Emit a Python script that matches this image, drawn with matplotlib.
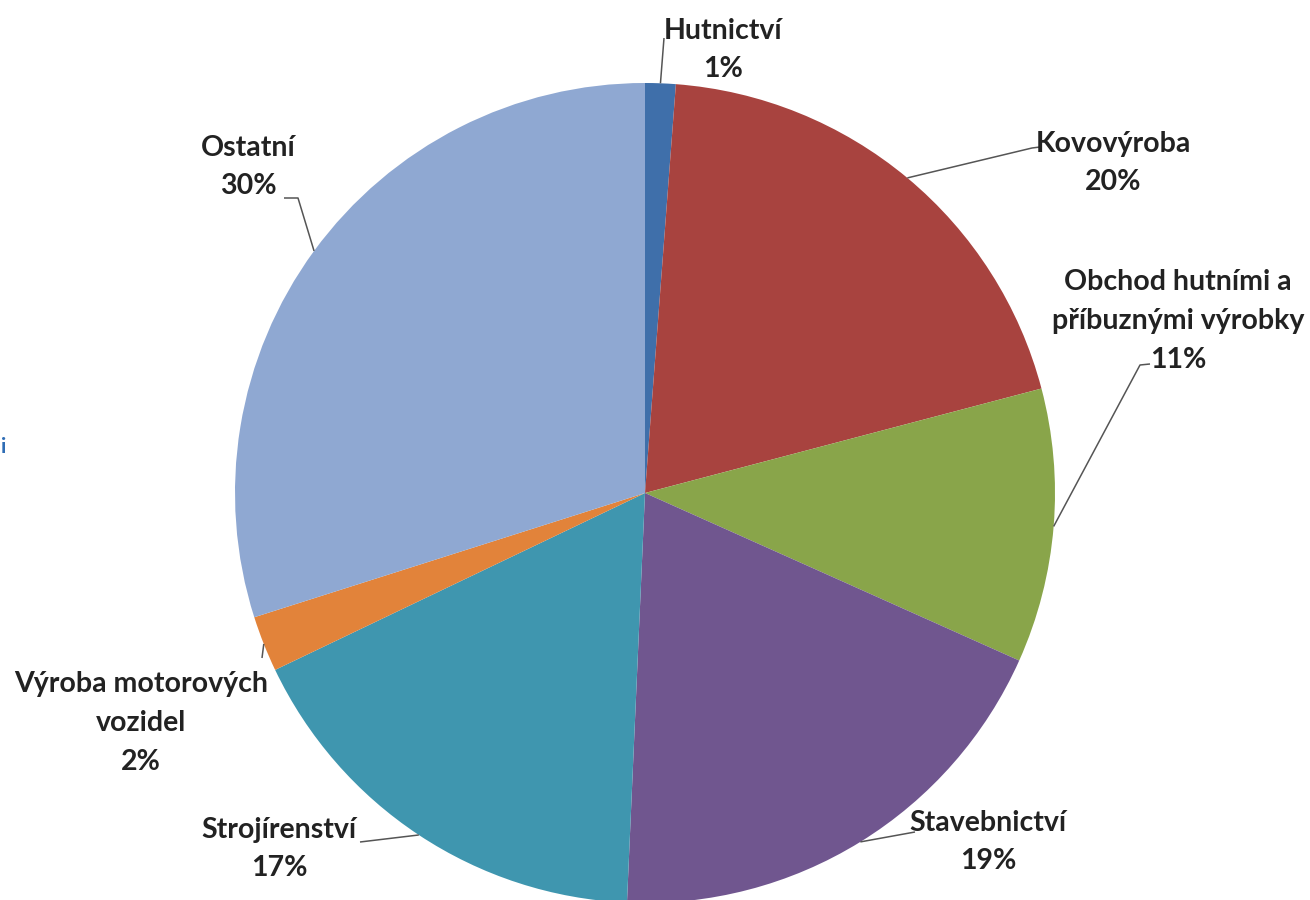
import matplotlib
matplotlib.use("Agg")
import matplotlib.pyplot as plt
import numpy as np

# data (share of sectors, %)
sectors = ["Hutnictví", "Kovovýroba", "Obchod hutními a\npříbuznými výrobky",
           "Stavebnictví", "Strojírenství", "Výroba motorových\nvozidel", "Ostatní"]
shares = [1.2, 19.7, 10.8, 19.0, 17.2, 2.2, 29.9]
colors = ["#3F6FAA", "#A8433F", "#89A54A", "#70568F", "#3F96AF", "#E2833A", "#8FA8D2"]

# label layout in pixel coords of the 1310x900 picture (y downwards)
label_pos = [(723, 50), (1113, 163), (1178, 321), (988, 842), (279, 849), (141, 723), (248, 167)]
elbows = [[(664, 38)],
          [(1032, 148), (1040, 147)],
          [(1140, 365), (1150, 364)],
          [(915, 832)],
          [(360, 842)],
          [(262, 658)],
          [(298, 198), (284, 198)]]

plt.rcParams["font.family"] = ["Lato", "DejaVu Sans"]

W, H = 1310, 900
fig = plt.figure(figsize=(13.1, 9.0), dpi=100)
ax = fig.add_axes([0, 0, 1, 1])

cx, cy, r = 645, H - 493, 410
wedges, _ = ax.pie(shares, colors=colors, startangle=90, counterclock=False,
                   center=(cx, cy), radius=r, frame=True,
                   wedgeprops=dict(linewidth=0))
ax.set_xlim(0, W)
ax.set_ylim(0, H)
ax.set_aspect("equal")
ax.axis("off")

for w, name, val, pos, elb in zip(wedges, sectors, shares, label_pos, elbows):
    mid = np.deg2rad((w.theta1 + w.theta2) / 2)
    ax_pt = (cx + r * np.cos(mid), cy + r * np.sin(mid))
    pts = [ax_pt] + [(x, H - y) for x, y in elb]
    xs, ys = zip(*pts)
    ax.plot(xs, ys, color="#555555", lw=1.1, solid_capstyle="butt")
    ax.text(pos[0], H - pos[1], f"{name}\n{round(val):.0f}%", ha="center", va="center",
            multialignment="center", fontsize=20.5, fontweight="bold",
            color="#222222", linespacing=1.6)

# cut-off legend remnant at the left edge
ax.text(1, H - 447, "i", fontsize=15, fontweight="bold", color="#2F6DB5",
        ha="left", va="center")

fig.savefig("out.png", dpi=100, facecolor="white")
